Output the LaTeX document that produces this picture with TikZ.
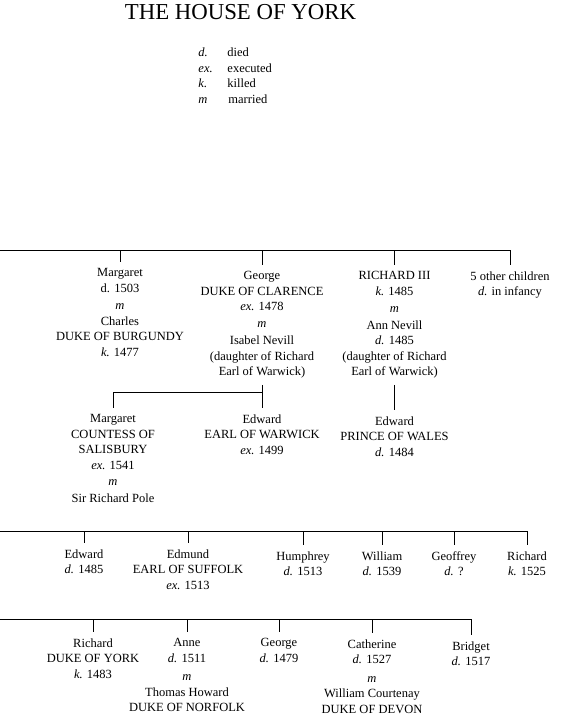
\documentclass[tikz,border=0pt]{standalone}
\usepackage{fontspec}
\setmainfont{Liberation Serif}
\begin{document}
\begin{tikzpicture}[x=1pt,y=-1pt,line width=0.9pt,
  person/.style={align=center,anchor=north,inner xsep=0pt,inner ysep=6pt,font=\fontsize{12.5}{15.5}\selectfont},
  legend/.style={anchor=base west,inner sep=0pt,font=\fontsize{12.5}{14}\selectfont},
  titlebox/.style={inner sep=0pt,font=\fontsize{22.8}{25}\selectfont}]
\useasboundingbox (0,0) rectangle (568,717);
% title and legend
\node[titlebox] (title) at (240.5,12.5) {THE HOUSE OF YORK};
\node[legend] (ab1) at (198,56.5) {\textit{d.}};  \node[legend] (tx1) at (227,56.5) {died};
\node[legend] (ab2) at (198,72.5) {\textit{ex.}}; \node[legend] (tx2) at (227,72.5) {executed};
\node[legend] (ab3) at (198,87.5) {\textit{k.}};  \node[legend] (tx3) at (227,87.5) {killed};
\node[legend] (ab4) at (198,103.5) {\textit{m}};  \node[legend] (tx4) at (228,103.5) {married};
% row 1
\coordinate (r1L) at (0,250); \coordinate (r1R) at (510,250);
\node[person] (margA) at (120,262) {Margaret\\ d. 1503\\[2pt] \textit{m}\\ Charles\\ DUKE OF BURGUNDY\\ \textit{k.} 1477};
\node[person] (george) at (262,265) {George\\ DUKE OF CLARENCE\\ \textit{ex.} 1478\\[1pt] \textit{m}\\[2pt] Isabel Nevill\\ (daughter of Richard\\ Earl of Warwick)};
\node[person] (rich3) at (394.5,265) {RICHARD III\\ \textit{k.} 1485\\[2pt] \textit{m}\\[1pt] Ann Nevill\\ \textit{d.} 1485\\ (daughter of Richard\\ Earl of Warwick)};
\node[person] (other) at (510,265) {5 other children\\ \textit{d.} in infancy};
\draw (r1L) -- (r1R) -- (other.north);
\foreach \n in {margA,george,rich3} \draw (\n.north |- r1L) -- (\n.north);
% row 2
\node[person] (margB) at (113,408) {Margaret\\ COUNTESS OF\\ SALISBURY\\ \textit{ex.} 1541\\[1pt] \textit{m}\\[1pt] Sir Richard Pole};
\node[person] (edwW) at (262,408) {Edward\\ EARL OF WARWICK\\ \textit{ex.} 1499};
\node[person] (edwP) at (394.5,410) {Edward\\ PRINCE OF WALES\\ \textit{d.} 1484};
\coordinate (j1) at (262,392);
\draw (george.south) -- (edwW.north);
\draw (j1) -| (margB.north);
\draw (rich3.south) -- (edwP.north);
% row 3
\coordinate (r3L) at (0,531); \coordinate (r3R) at (527,531);
\node[person] (edw3) at (84,543) {Edward\\ \textit{d.} 1485};
\node[person] (edm3) at (188,543) {Edmund\\ EARL OF SUFFOLK\\ \textit{ex.} 1513};
\node[person] (hum3) at (303,545) {Humphrey\\ \textit{d.} 1513};
\node[person] (wil3) at (382,545) {William\\ \textit{d.} 1539};
\node[person] (geo3) at (454,545) {Geoffrey\\ \textit{d.} ?};
\node[person] (ric3) at (527,545) {Richard\\ \textit{k.} 1525};
\draw (r3L) -- (r3R) -- (ric3.north);
\foreach \n in {edw3,edm3,hum3,wil3,geo3} \draw (\n.north |- r3L) -- (\n.north);
% row 4
\coordinate (r4L) at (0,619); \coordinate (r4R) at (471,619);
\node[person] (ric4) at (93,632) {Richard\\ DUKE OF YORK\\ \textit{k.} 1483};
\node[person] (ann4) at (187,632) {Anne\\ \textit{d.} 1511\\[3pt] \textit{m}\\ Thomas Howard\\ DUKE OF NORFOLK};
\node[person] (geo4) at (279,632) {George\\ \textit{d.} 1479};
\node[person] (cat4) at (372,633) {Catherine\\ \textit{d.} 1527\\[3pt] \textit{m}\\ William Courtenay\\ DUKE OF DEVON};
\node[person] (bri4) at (471,635) {Bridget\\ \textit{d.} 1517};
\draw (r4L) -- (r4R) -- (bri4.north);
\foreach \n in {ric4,ann4,geo4,cat4} \draw (\n.north |- r4L) -- (\n.north);
\end{tikzpicture}
\end{document}
